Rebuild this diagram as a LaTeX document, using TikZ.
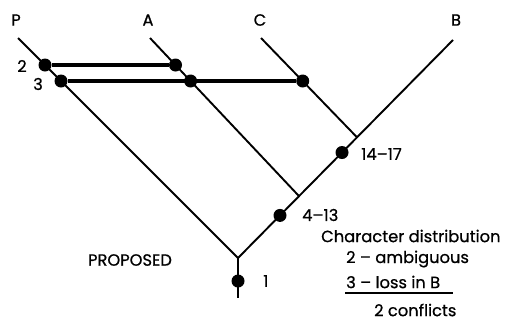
\documentclass[tikz,border=0pt]{standalone}
\usepackage{fontspec}
\setmainfont{Poppins}
\newfontfamily\lblfont[FakeBold=0.7,Ligatures=TeX]{Poppins}
\begin{document}
\begin{tikzpicture}[x=1pt,y=-1pt,
  branch/.style={line width=1.9pt},
  bar/.style={line width=3.4pt},
  dot/.style={circle,fill=black,inner sep=0pt,minimum size=13pt},
  lbl/.style={font=\lblfont\fontsize{16.3}{19}\selectfont,inner sep=0pt}]
\useasboundingbox (0,0) rectangle (513,322);
% line ends
\coordinate (Ptop) at (18,38);
\coordinate (Atop) at (150,38);
\coordinate (Ctop) at (261,38);
\coordinate (Btop) at (453,40);
\coordinate (root) at (238,258);
\coordinate (stem) at (238,298);
\coordinate (jAB) at (299,196.1);
\coordinate (jCB) at (357,137.3);
% branches
\draw[branch] (Ptop) -- (root) -- (Btop);
\draw[branch] (Atop) -- (jAB);
\draw[branch] (Ctop) -- (jCB);
\draw[branch] (root) -- (stem);
% dots
\node[dot] (p2) at (45,65) {};
\node[dot] (a2) at (175.5,65) {};
\node[dot] (p3) at (61,81) {};
\node[dot] (a3) at (190.6,81) {};
\node[dot] (c3) at (302.7,81) {};
\node[dot] (d1417) at (342,152.5) {};
\node[dot] (d413) at (280,215.4) {};
\node[dot] (d1) at (238,281) {};
% character bars
\draw[bar] (p2) -- (a2);
\draw[bar] (p3) -- (c3);
% labels
\node[lbl] (lP) at (16,20) {P};
\node[lbl] (lA) at (148,20) {A};
\node[lbl] (lC) at (260,20) {C};
\node[lbl] (lB) at (456,20) {B};
\node[lbl] (l2) at (22,66) {2};
\node[lbl] (l3) at (38,84) {3};
\node[lbl,anchor=west] (l1417) at (361,154) {14–17};
\node[lbl,anchor=west] (l413) at (302,215) {4–13};
\node[lbl,anchor=west] (l1) at (263,281) {1};
\node[lbl] (lprop) at (130,260) {PROPOSED};
\node[lbl,anchor=west] (lchar) at (321,236) {Character distribution};
\node[lbl,anchor=west] (lamb) at (346,259) {2 – ambiguous};
\node[lbl,anchor=west] (lloss) at (346,282) {3 – loss in B};
\node[lbl,anchor=west] (lconf) at (374,310) {2 conflicts};
\coordinate (ul1) at (345,293);
\coordinate (ul2) at (453,293);
\draw[line width=1.9pt] (ul1) -- (ul2);
\end{tikzpicture}
\end{document}
